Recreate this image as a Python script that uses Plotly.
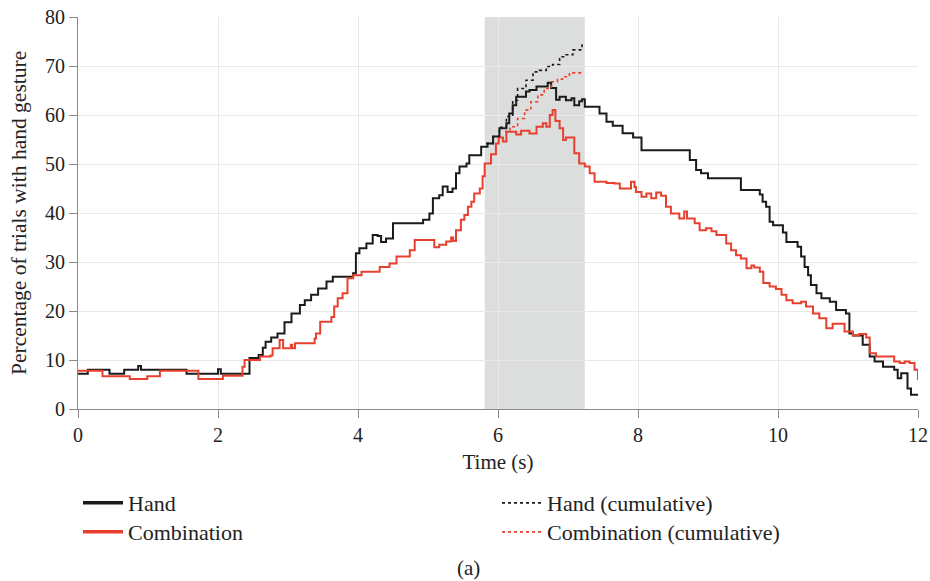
import plotly.graph_objects as go

# ---- data ----
hand_t = [0.00, 0.14, 0.45, 0.66, 0.86, 0.90, 1.55, 2.00, 2.04, 2.45, 2.58, 2.64, 2.68, 2.76, 2.85, 2.95,
          3.05, 3.17, 3.24, 3.33, 3.43, 3.55, 3.64, 3.93, 3.97, 4.02, 4.12, 4.21, 4.28, 4.33, 4.40, 4.50,
          4.93, 5.02, 5.07, 5.16, 5.21, 5.28, 5.35, 5.40, 5.45, 5.55, 5.59, 5.76, 5.85, 5.93, 6.02, 6.12,
          6.16, 6.21, 6.26, 6.40, 6.45, 6.55, 6.71, 6.76, 6.83, 6.88, 6.97, 7.05, 7.09, 7.16, 7.20, 7.24,
          7.45, 7.55, 7.64, 7.78, 7.93, 8.05, 8.74, 8.83, 8.90, 9.00, 9.47, 9.74, 9.78, 9.83, 9.88, 9.93,
          10.07, 10.12, 10.28, 10.33, 10.38, 10.43, 10.47, 10.55, 10.62, 10.74, 10.83, 10.97, 11.02, 11.07,
          11.21, 11.31, 11.38, 11.50, 11.66, 11.71, 11.76, 11.85, 11.90, 12.00]
hand_v = [7.2, 8.0, 7.2, 8.0, 8.8, 8.0, 7.2, 8.1, 7.2, 10.4, 11.0, 12.5, 13.7, 14.6, 15.4, 17.7,
          19.5, 21.2, 22.2, 23.3, 24.6, 26.0, 27.0, 27.7, 31.8, 32.8, 33.8, 35.5, 35.3, 34.1, 34.8, 37.9,
          38.6, 39.9, 43.0, 43.6, 45.4, 44.3, 45.0, 48.1, 49.5, 50.1, 51.8, 53.5, 54.2, 55.6, 57.3, 58.3,
          60.3, 62.0, 63.7, 64.8, 65.1, 65.8, 66.6, 65.5, 63.1, 63.7, 63.0, 63.4, 62.0, 62.8, 63.2, 61.7,
          60.3, 58.6, 57.8, 56.3, 55.4, 52.8, 50.8, 48.8, 48.1, 47.1, 44.7, 43.8, 42.3, 41.3, 38.2, 37.5,
          36.0, 34.1, 33.1, 31.1, 29.0, 27.3, 25.3, 23.6, 22.6, 21.9, 20.2, 19.5, 15.4, 15.0,
          13.1, 10.7, 9.7, 8.6, 8.0, 6.3, 7.3, 4.2, 2.9, 2.9]

comb_t = [0.00, 0.35, 0.74, 0.99, 1.17, 1.72, 2.07, 2.35, 2.38, 2.60, 2.75, 2.78, 2.88, 2.93, 3.04, 3.06,
          3.10, 3.38, 3.40, 3.46, 3.62, 3.66, 3.71, 3.78, 3.85, 3.93, 4.05, 4.31, 4.45, 4.55, 4.74, 4.81,
          5.09, 5.16, 5.26, 5.33, 5.36, 5.40, 5.47, 5.52, 5.57, 5.62, 5.66, 5.74, 5.78, 5.81, 5.90, 5.97,
          6.01, 6.07, 6.12, 6.26, 6.33, 6.45, 6.55, 6.64, 6.69, 6.74, 6.78, 6.82, 6.88, 6.93, 6.97, 7.09,
          7.16, 7.24, 7.31, 7.38, 7.55, 7.66, 7.74, 7.90, 7.95, 7.97, 8.05, 8.12, 8.19, 8.26, 8.33, 8.40,
          8.47, 8.59, 8.66, 8.70, 8.81, 8.88, 8.97, 9.05, 9.12, 9.26, 9.33, 9.40, 9.47, 9.55, 9.62, 9.66,
          9.74, 9.79, 9.88, 9.97, 10.05, 10.12, 10.21, 10.33, 10.40, 10.50, 10.59, 10.69, 10.78, 10.95,
          11.07, 11.16, 11.26, 11.31, 11.40, 11.66, 11.74, 11.81, 11.88, 11.95, 12.00]
comb_v = [7.8, 6.7, 6.1, 6.7, 7.8, 6.1, 6.8, 8.6, 10.0, 10.7, 10.9, 12.4, 14.1, 12.4, 13.1, 12.4,
          13.4, 14.4, 15.4, 17.8, 18.8, 20.9, 22.6, 23.6, 26.7, 27.3, 28.0, 29.0, 29.7, 31.1, 32.4, 34.5,
          33.0, 33.5, 34.2, 35.0, 34.3, 36.5, 38.6, 39.6, 41.3, 42.3, 44.0, 45.0, 47.5, 50.1, 52.0, 54.2,
          55.4, 54.6, 56.6, 56.0, 56.8, 56.2, 57.6, 58.3, 57.6, 60.0, 61.0, 58.8, 57.3, 54.9, 55.4, 52.2,
          50.1, 49.5, 48.1, 46.4, 46.1, 46.0, 45.0, 46.4, 45.3, 44.3, 43.3, 44.0, 43.0, 44.2, 43.5, 41.3,
          39.9, 38.9, 40.3, 38.9, 37.9, 36.5, 36.9, 36.3, 35.5, 33.8, 32.4, 31.4, 30.7, 28.7, 29.3, 28.9,
          28.0, 25.7, 25.0, 24.5, 23.3, 22.2, 21.6, 21.9, 20.9, 19.5, 18.5, 16.5, 17.4, 15.8,
          15.0, 15.3, 14.6, 11.4, 10.7, 9.7, 9.4, 9.7, 9.4, 8.0, 5.9]

hand_cum_t = [5.83, 5.93, 6.02, 6.12, 6.21, 6.28, 6.40, 6.50, 6.59, 6.69, 6.78, 6.88, 6.97, 7.07, 7.20]
hand_cum_v = [54.2, 55.6, 57.5, 59.7, 63.0, 65.4, 67.1, 68.8, 69.1, 69.9, 70.3, 71.9, 72.3, 73.3, 74.8]

comb_cum_t = [6.10, 6.17, 6.28, 6.38, 6.47, 6.57, 6.66, 6.76, 6.85, 6.92, 7.02, 7.22]
comb_cum_v = [56.6, 57.6, 59.3, 61.0, 62.7, 64.1, 65.4, 66.8, 67.3, 67.8, 68.6, 68.6]

window = [5.81, 7.24]
x_ticks = [0, 2, 4, 6, 8, 10, 12]
y_ticks = [0, 10, 20, 30, 40, 50, 60, 70, 80]

BLACK = "#1b1b1b"
RED = "#e8402e"
FONT = "Liberation Serif"
TXT = "#222222"
W, H = 930, 581
L, R, T, B = 78, 12, 17, 172
PW, PH = W - L - R, H - T - B

series = [
    ("Hand", hand_t, hand_v, BLACK, "solid", "legend"),
    ("Combination", comb_t, comb_v, RED, "solid", "legend2"),
    ("Hand (cumulative)", hand_cum_t, hand_cum_v, BLACK, "dot", "legend3"),
    ("Combination (cumulative)", comb_cum_t, comb_cum_v, RED, "dot", "legend4"),
]

fig = go.Figure()
for name, xs, ys, col, dash, lg in series:
    w = 2 if dash == "solid" else 1.6
    fig.add_trace(go.Scatter(x=xs, y=ys, mode="lines", line=dict(color=col, width=w, dash=dash, shape="hv"),
                             name=name, showlegend=False, hoverinfo="x+y+name"))
for name, xs, ys, col, dash, lg in series:
    w = 3.5 if dash == "solid" else 1.8
    fig.add_trace(go.Scatter(x=[None], y=[None], mode="lines", line=dict(color=col, width=w, dash=dash),
                             name=name, legend=lg, showlegend=True))

fig.add_shape(type="rect", x0=window[0], x1=window[1], y0=0, y1=1, xref="x", yref="paper",
              fillcolor="#dcdedd", line_width=0, layer="below")


def px_x(xpx):
    return (xpx - L) / PW


def px_y(ypx):
    return (H - B - ypx) / PH


def leg(xpx, ypx):
    return dict(x=px_x(xpx), y=px_y(ypx), xref="paper", yref="paper",
                xanchor="left", yanchor="middle", bgcolor="rgba(0,0,0,0)",
                font=dict(family=FONT, size=22, color=TXT), itemwidth=40,
                borderwidth=0)


fig.update_layout(
    width=W, height=H,
    showlegend=True,
    margin=dict(l=L, r=R, t=T, b=B, autoexpand=False),
    plot_bgcolor="white", paper_bgcolor="white",
    font=dict(family=FONT, size=20, color=TXT),
    legend=leg(78, 503),
    legend2=leg(78, 532),
    legend3=leg(497, 503),
    legend4=leg(497, 532),
    xaxis=dict(range=[0, 12], tickvals=x_ticks, showgrid=True, gridcolor="#e9e9e9", gridwidth=1,
               showline=True, linecolor="#8a8a8a", linewidth=1, ticks="outside", ticklen=8,
               tickcolor="#8a8a8a", zeroline=False, tickfont=dict(size=20),
               title=dict(text="Time (s)", font=dict(size=21), standoff=9)),
    yaxis=dict(range=[0, 80], tickvals=y_ticks, showgrid=True, gridcolor="#e9e9e9", gridwidth=1,
               showline=True, linecolor="#8a8a8a", linewidth=1, ticks="outside", ticklen=8,
               tickcolor="#8a8a8a", zeroline=False, tickfont=dict(size=20)),
    annotations=[
        dict(text="(a)", x=px_x(468), y=px_y(568), xref="paper", yref="paper",
             xanchor="center", yanchor="middle",
             showarrow=False, font=dict(family=FONT, size=21, color=TXT)),
        dict(text="Percentage of trials with hand gesture", x=px_x(19), y=px_y(213),
             xref="paper", yref="paper", xanchor="center", yanchor="middle", textangle=-90,
             showarrow=False, font=dict(family=FONT, size=21.5, color=TXT)),
    ],
)

fig.write_html("out.html")
